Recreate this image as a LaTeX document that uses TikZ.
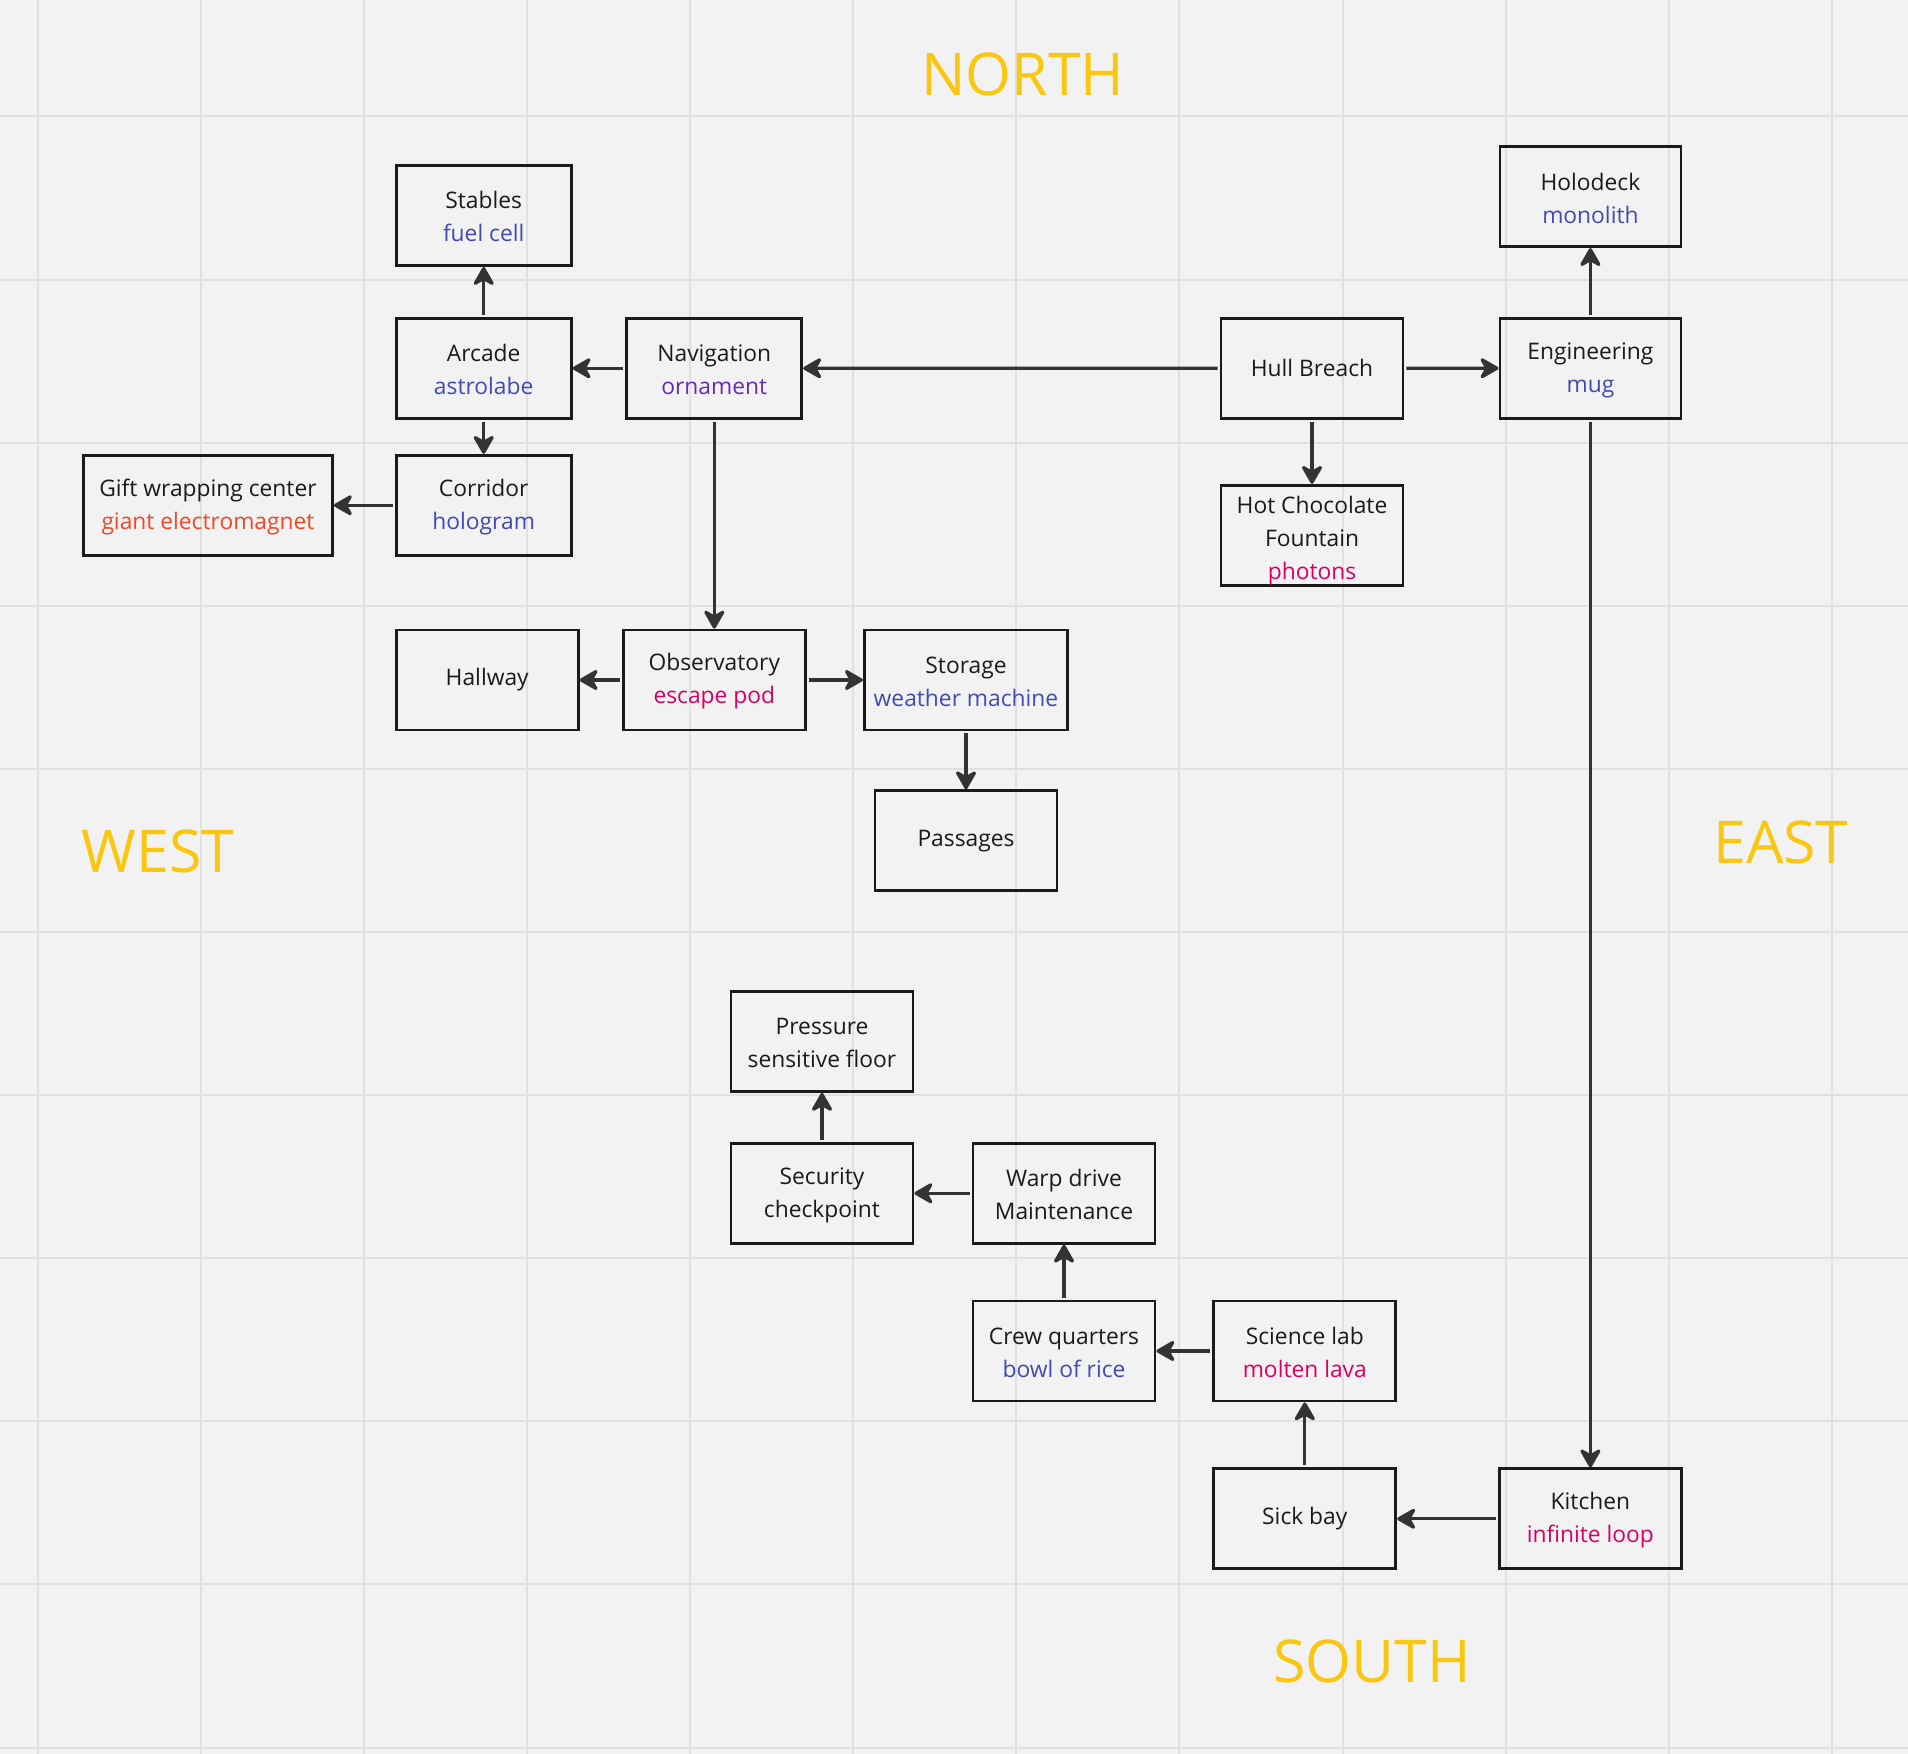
\documentclass[tikz,border=0pt]{standalone}
\usepackage{fontspec}
\setmainfont{Open Sans}
\usetikzlibrary{arrows.meta}
\definecolor{bgc}{HTML}{F2F2F2}
\definecolor{gridc}{HTML}{E0E0E0}
\definecolor{boxc}{HTML}{1A1A1A}
\definecolor{linec}{HTML}{333333}
\definecolor{cblue}{HTML}{414BB2}
\definecolor{cviolet}{HTML}{652CB3}
\definecolor{cred}{HTML}{F24726}
\definecolor{cpink}{HTML}{DA0063}
\definecolor{cyellow}{HTML}{FAC710}
\newcommand{\topstrut}[1]{\rule{0pt}{#1}}
\tikzset{
  room/.style={draw=boxc, line width=1.4pt, minimum height=50pt, align=center,
    inner sep=0pt, font=\fontsize{11.4}{16.5}\selectfont, text=boxc},
  conn/.style={draw=linec, line width=1.6pt, line join=round, shorten <=1pt,
    -{Stealth[length=11pt,width=12.5pt,inset=3.5pt,round]}},
  compass/.style={text=cyellow, font=\fontsize{29.5}{36}\selectfont, inner sep=0pt}
}
\begin{document}
\begin{tikzpicture}[x=0.5pt,y=-0.5pt]
\useasboundingbox (0,0) rectangle (1908,1754);
\fill[bgc] (0,0) rectangle (1908,1754);
\foreach \k in {0,...,11} \draw[gridc, line width=1pt] (37.7+163.1*\k,0) -- (37.7+163.1*\k,1754);
\foreach \k in {0,...,10} \draw[gridc, line width=1pt] (0,116.5+163.1*\k) -- (1908,116.5+163.1*\k);

\node[compass] (north) at (1022.7,74) {NORTH};
\node[compass] (west) at (158,851) {WEST};
\node[compass] (east) at (1780.8,842) {EAST};
\node[compass] (south) at (1372,1661.5) {SOUTH};

\node[room, minimum width=87.5pt] (stables) at (483.7,215.6) {\topstrut{10pt}Stables\\\textcolor{cblue}{fuel cell}};
\node[room, minimum width=87.5pt] (arcade) at (483.7,368.3) {\topstrut{10pt}Arcade\\\textcolor{cblue}{astrolabe}};
\node[room, minimum width=87.5pt] (nav) at (714.3,368.3) {\topstrut{10pt}Navigation\\\textcolor{cviolet}{ornament}};
\node[room, minimum width=87.5pt] (corridor) at (483.7,505.3) {\topstrut{10pt}Corridor\\\textcolor{cblue}{hologram}};
\node[room, minimum width=124.5pt] (gift) at (208,505.3) {\topstrut{10pt}Gift wrapping center\\\textcolor{cred}{giant electromagnet}};
\node[room, minimum width=90.5pt] (holo) at (1590.4,196.7) {\topstrut{10pt}Holodeck\\\textcolor{cblue}{monolith}};
\node[room, minimum width=91pt] (hull) at (1312,368.2) {Hull Breach};
\node[room, minimum width=90.5pt] (eng) at (1590.4,368.3) {\topstrut{10pt}Engineering\\\textcolor{cblue}{mug}};
\node[room, minimum width=91pt] (hotc) at (1312,535.3) {\topstrut{14pt}Hot Chocolate\\Fountain\\\textcolor{cpink}{photons}};
\node[room, minimum width=91pt] (hallway) at (487.2,680) {Hallway};
\node[room, minimum width=91pt] (obs) at (714.3,680) {\topstrut{10pt}Observatory\\\textcolor{cpink}{escape pod}};
\node[room, minimum width=101.7pt] (storage) at (966,680) {\topstrut{10pt}Storage\\\textcolor{cblue}{weather machine}};
\node[room, minimum width=91pt] (passages) at (966,840.7) {Passages};
\node[room, minimum width=91pt] (pressure) at (822,1041.5) {\topstrut{10pt}Pressure\\sensitive floor};
\node[room, minimum width=91pt] (security) at (822,1193.3) {\topstrut{10pt}Security\\checkpoint};
\node[room, minimum width=91pt] (warp) at (1064,1193.3) {\topstrut{10pt}Warp drive\\Maintenance};
\node[room, minimum width=91pt] (crew) at (1064,1351) {\topstrut{10pt}Crew quarters\\\textcolor{cblue}{bowl of rice}};
\node[room, minimum width=91pt] (science) at (1304.8,1351) {\topstrut{10pt}Science lab\\\textcolor{cpink}{molten lava}};
\node[room, minimum width=91pt] (sick) at (1304.8,1518.8) {Sick bay};
\node[room, minimum width=91pt] (kitchen) at (1590.4,1518.8) {\topstrut{10pt}Kitchen\\\textcolor{cpink}{infinite loop}};

\draw[conn] (arcade) -- (stables);
\draw[conn] (nav) -- (arcade);
\draw[conn] (arcade) -- (corridor);
\draw[conn] (corridor) -- (gift);
\draw[conn] (hull) -- (nav);
\draw[conn] (hull) -- (eng);
\draw[conn] (eng) -- (holo);
\draw[conn] (hull) -- (hotc);
\draw[conn] (nav) -- (obs);
\draw[conn] (obs) -- (hallway);
\draw[conn] (obs) -- (storage);
\draw[conn] (storage) -- (passages);
\draw[conn] (eng) -- (kitchen);
\draw[conn] (kitchen) -- (sick);
\draw[conn] (sick) -- (science);
\draw[conn] (science) -- (crew);
\draw[conn] (crew) -- (warp);
\draw[conn] (warp) -- (security);
\draw[conn] (security) -- (pressure);
\end{tikzpicture}
\end{document}
